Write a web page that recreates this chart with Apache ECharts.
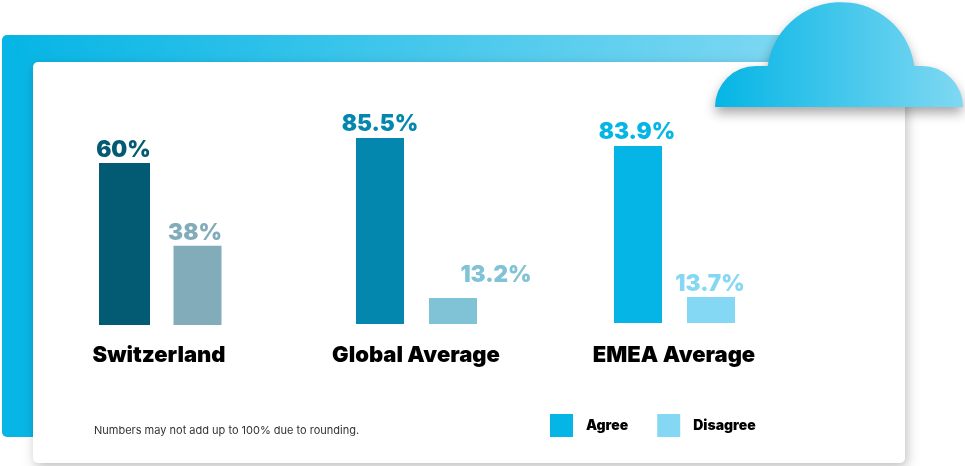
<!DOCTYPE html>
<html>
<head>
<meta charset="utf-8">
<style>
html,body{margin:0;padding:0;background:#fff;}
#chart{width:965px;height:466px;}
</style>
<script src="https://cdn.jsdelivr.net/npm/echarts@6/dist/echarts.min.js"></script>
</head>
<body>
<div id="chart"></div>
<script>
const regions = ['Switzerland', 'Global Average', 'EMEA Average'];
const responses = ['Agree', 'Disagree'];
const agree = [60, 85.5, 83.9];
const disagree = [38, 13.2, 13.7];
const agreeColors = ['#025a73', '#0387ae', '#05b5e5'];
const disagreeColors = ['#82acba', '#80c2d6', '#85d8f3'];
const footnote = 'Numbers may not add up to 100% due to rounding.';

// Each region is its own panel with its own hidden value scale.
const panels = [
  { left: 88,    bottom: 325, min: 17,   max: 76.7,  agreeWidth: 51, agreeOffset: [-1, 1],  disagreeOffset: [-2.5, 1],  nameGap: 19, namePad: 4 },
  { left: 343.5, bottom: 324, min: 1.45, max: 102.7, agreeWidth: 48, agreeOffset: [0, 0],   disagreeOffset: [43, -9.5], nameGap: 20, namePad: 1 },
  { left: 601.5, bottom: 323, min: 1.61, max: 105.3, agreeWidth: 48, agreeOffset: [-1, 0],  disagreeOffset: [-1, 0.5],  nameGap: 21, namePad: 1 }
];
const panelTop = 100;
const panelWidth = 146;
const valueFont = 'Inter';

// Cloud outline: two side lobes and a large central dome on a flat base.
echarts.graphic.registerShape('cloud', echarts.graphic.extendPath(
  'M715 107 A41 41 0 0 1 756 66 L767.7 66 A74 74 0 0 1 914.3 66 L922 66 A41 41 0 0 1 963 107 Z'
));

const grid = [], xAxis = [], yAxis = [], series = [];

panels.forEach((p, i) => {
  grid.push({ left: p.left, top: panelTop, width: panelWidth, height: p.bottom - panelTop });
  yAxis.push({ gridIndex: i, type: 'value', min: p.min, max: p.max, show: false });

  // Two overlaid category axes let the two bars of a panel have independent widths.
  xAxis.push({
    gridIndex: i, type: 'category', data: responses,
    axisLine: { show: false }, axisTick: { show: false }, axisLabel: { show: false },
    name: regions[i], nameLocation: 'middle', nameGap: p.nameGap,
    nameTextStyle: { fontFamily: 'Inter', fontWeight: 900, fontSize: 22, color: '#000', padding: [0, p.namePad, 0, 0] }
  });
  xAxis.push({
    gridIndex: i, type: 'category', data: responses, position: 'bottom',
    axisLine: { show: false }, axisTick: { show: false }, axisLabel: { show: false }
  });

  const label = (color, offset) => ({
    show: true, position: 'top', distance: 2, offset,
    formatter: ({ value }) => value + '%',
    color, fontFamily: valueFont, fontWeight: 900, fontSize: 22.5
  });

  series.push({
    name: 'Agree', type: 'bar', xAxisIndex: i * 2, yAxisIndex: i,
    barWidth: p.agreeWidth, silent: true,
    data: [agree[i], null],
    itemStyle: { color: agreeColors[i] },
    label: label(agreeColors[i], p.agreeOffset)
  });
  series.push({
    name: 'Disagree', type: 'bar', xAxisIndex: i * 2 + 1, yAxisIndex: i,
    barWidth: 48, silent: true,
    data: [null, disagree[i]],
    itemStyle: { color: disagreeColors[i] },
    label: label(disagreeColors[i], p.disagreeOffset)
  });
});

const sweep = (from, to) => ({
  type: 'linear', x: 0, y: 0, x2: 1, y2: 0,
  colorStops: [{ offset: 0, color: from }, { offset: 1, color: to }]
});

const chart = echarts.init(document.getElementById('chart'), null, { renderer: 'canvas' });
chart.setOption({
  animation: false,
  backgroundColor: '#fff',
  title: {
    text: footnote, left: 94, top: 425,
    textStyle: { fontFamily: 'Inter', fontWeight: 400, fontSize: 11, color: '#333' },
    padding: 0
  },
  legend: {
    left: 550, top: 414, padding: 0, itemWidth: 23, itemHeight: 23, itemGap: 29, icon: 'rect',
    selectedMode: false,
    textStyle: { fontFamily: 'Inter', fontWeight: 900, fontSize: 14, color: '#000', padding: [0, 0, 0, 8] },
    data: [
      { name: 'Agree', itemStyle: { color: '#05b5e5' } },
      { name: 'Disagree', itemStyle: { color: '#85d8f3' } }
    ]
  },
  grid, xAxis, yAxis, series,
  graphic: {
    elements: [
      {
        type: 'rect', z: 0, silent: true,
        shape: { x: 2, y: 35, width: 800, height: 402, r: 5 },
        style: { fill: sweep('#05b5e5', '#7fd8f2') }
      },
      {
        type: 'rect', z: 0, silent: true,
        shape: { x: 33, y: 62, width: 872, height: 401, r: 5 },
        style: { fill: '#fff', shadowBlur: 12, shadowColor: 'rgba(0,0,0,0.25)', shadowOffsetX: 2, shadowOffsetY: 4 }
      },
      {
        type: 'cloud', z: 5, silent: true,
        style: { fill: sweep('#05b5e5', '#7fd8f2'), shadowBlur: 12, shadowColor: 'rgba(0,0,0,0.35)', shadowOffsetY: 6 }
      }
    ]
  }
});
</script>
</body>
</html>
